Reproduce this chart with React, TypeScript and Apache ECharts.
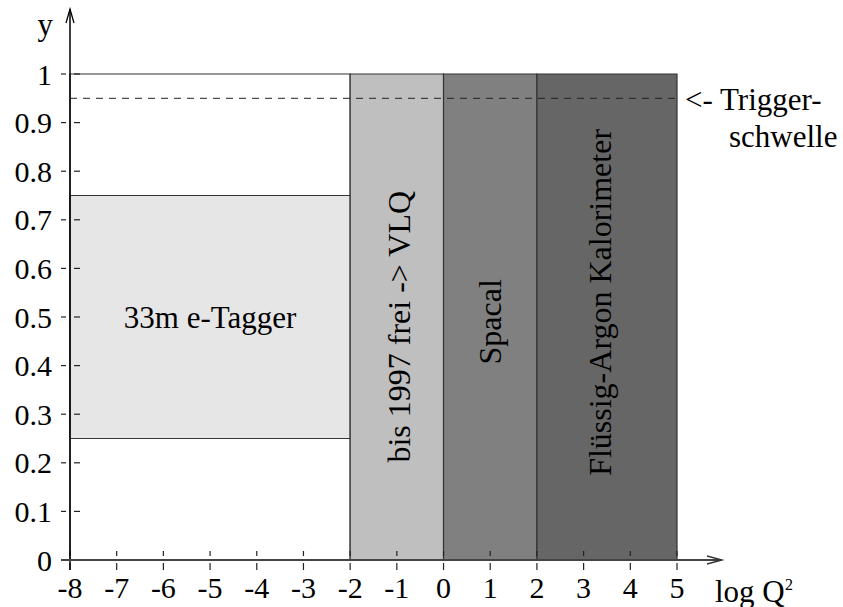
import React, { useEffect, useRef } from 'react';
import * as echarts from 'echarts';

const FONT = 'Liberation Serif, Times New Roman, serif';

const xTickValues = [-8, -7, -6, -5, -4, -3, -2, -1, 0, 1, 2, 3, 4, 5];
const yTickValues = [0, 0.1, 0.2, 0.3, 0.4, 0.5, 0.6, 0.7, 0.8, 0.9, 1];

const regionNames = ['', '33m e-Tagger', 'bis 1997 frei -> VLQ', 'Spacal', 'Flüssig-Argon Kalorimeter'];
const regionX0 = [-8, -8, -2, 0, 2];
const regionX1 = [-2, -2, 0, 2, 5];
const regionY0 = [0, 0.25, 0, 0, 0];
const regionY1 = [1, 0.75, 1, 1, 1];
const regionColors = ['#ffffff', '#e6e6e6', '#bfbfbf', '#808080', '#666666'];
const labelX = [-5, -5, -0.95, 1, 3.35];
const labelY = [0.5, 0.5, 0.48, 0.49, 0.53];
const labelRotated = [0, 0, 1, 1, 1];

const triggerY = 0.95;
const triggerX = [-8, 5];
const triggerText = ['<- Trigger-', 'schwelle'];

const xName = 'log Q';
const xNameSup = '2';
const yName = 'y';

export default function App() {
  const ref = useRef<HTMLDivElement>(null);

  useEffect(() => {
    if (!ref.current) return;
    const chart = echarts.init(ref.current, null, { renderer: 'svg' });

    const regionData = regionX0.map((x0, i) => [x0, regionX1[i], regionY0[i], regionY1[i], labelX[i], labelY[i], labelRotated[i]]);

    const axisCommon = {
      axisLine: { show: false },
      axisTick: { show: false },
      splitLine: { show: false },
    };

    chart.setOption({
      animation: false,
      backgroundColor: '#ffffff',
      textStyle: { fontFamily: FONT },
      grid: { left: 70, right: 166, top: 74, bottom: 47 },
      xAxis: {
        type: 'value',
        min: -8,
        max: 5,
        interval: 1,
        ...axisCommon,
        axisLabel: {
          fontFamily: FONT,
          fontSize: 30,
          color: '#000',
          margin: 12,
          formatter: (v: number) => String(v),
        },
      },
      yAxis: {
        type: 'value',
        min: 0,
        max: 1,
        interval: 0.1,
        ...axisCommon,
        axisLabel: {
          fontFamily: FONT,
          fontSize: 30,
          color: '#000',
          margin: 18,
          formatter: (v: number) => String(Number(v.toFixed(1))),
        },
      },
      series: [
        {
          type: 'custom',
          data: regionData,
          z: 2,
          renderItem: (params: any, api: any) => {
            const i = params.dataIndex;
            const tl = api.coord([api.value(0), api.value(3)]);
            const br = api.coord([api.value(1), api.value(2)]);
            const children: any[] = [
              {
                type: 'rect',
                shape: { x: tl[0], y: tl[1], width: br[0] - tl[0], height: br[1] - tl[1] },
                style: { fill: regionColors[i], stroke: '#333', lineWidth: 1.2 },
              },
            ];
            const name = regionNames[i];
            if (name) {
              const c = api.coord([api.value(4), api.value(5)]);
              const rotated = api.value(6);
              children.push({
                type: 'text',
                x: c[0],
                y: c[1],
                rotation: rotated ? Math.PI / 2 : 0,
                style: {
                  text: name,
                  fontFamily: FONT,
                  fontSize: rotated ? 32 : 31,
                  fill: '#000',
                  align: 'center',
                  verticalAlign: 'middle',
                },
              });
            }
            return { type: 'group', children };
          },
        },
        {
          type: 'line',
          data: triggerX.map((x) => [x, triggerY]),
          symbol: 'none',
          z: 5,
          lineStyle: { color: '#222', width: 1, type: [7, 6] },
        },
      ],
    });

    const px = (x: number, y: number) => chart.convertToPixel({ gridIndex: 0 }, [x, y]) as number[];
    const origin = px(-8, 0);
    const yTop = px(-8, 1);
    const xEnd = px(5, 0);
    const ox = origin[0];
    const oy = origin[1];

    const graphics: any[] = [];
    const lineEl = (x1: number, y1: number, x2: number, y2: number, stroke = '#000', lw = 1.3) => ({
      type: 'line',
      z: 100,
      shape: { x1, y1, x2, y2 },
      style: { stroke, lineWidth: lw },
    });
    const textEl = (x: number, y: number, text: string, fontSize = 31, align = 'left', verticalAlign = 'middle') => ({
      type: 'text',
      z: 100,
      x,
      y,
      style: { text, fontFamily: FONT, fontSize, fill: '#000', align, verticalAlign },
    });

    // ticks
    xTickValues.forEach((v) => {
      const p = px(v, 0);
      graphics.push(lineEl(p[0], oy - 9, p[0], oy - 4, '#222', 1.2));
      graphics.push(lineEl(p[0], oy + 3, p[0], oy + 10, '#222', 1.2));
    });
    yTickValues.forEach((v) => {
      const p = px(-8, v);
      graphics.push(lineEl(ox - 9, p[1], ox - 4, p[1], '#222', 1.2));
      graphics.push(lineEl(ox + 4, p[1], ox + 10, p[1], '#222', 1.2));
    });

    // axes with open arrows
    const yTip = yTop[1] - 65;
    graphics.push(lineEl(ox, oy + 10, ox, yTip, '#000', 1.5));
    graphics.push({
      type: 'polyline',
      z: 100,
      shape: { points: [[ox - 4, yTip + 14], [ox, yTip], [ox + 4, yTip + 14]] },
      style: { stroke: '#000', lineWidth: 1.3, fill: 'none' },
    });
    const xTip = xEnd[0] + 45;
    graphics.push(lineEl(ox - 9, oy, xTip, oy, '#444', 2));
    graphics.push({
      type: 'polyline',
      z: 100,
      shape: { points: [[xTip - 15, oy - 4], [xTip, oy], [xTip - 15, oy + 4]] },
      style: { stroke: '#333', lineWidth: 1.3, fill: 'none' },
    });

    // axis names
    graphics.push(textEl(ox - 17, yTop[1] - 50, yName, 31, 'right', 'middle'));
    graphics.push(textEl(xEnd[0] + 38, oy + 31, xName, 31, 'left', 'middle'));
    graphics.push(textEl(xEnd[0] + 108, oy + 24, xNameSup, 16, 'left', 'middle'));

    // trigger label
    const tp = px(triggerX[1], triggerY);
    graphics.push(textEl(tp[0] + 8, tp[1] + 1, triggerText[0]));
    graphics.push(textEl(tp[0] + 52, tp[1] + 38, triggerText[1]));

    chart.setOption({ graphic: graphics });

    return () => chart.dispose();
  }, []);

  return (
    <div
      ref={ref}
      style={{ position: 'absolute', left: 0, top: 0, width: 843, height: 607 }}
    />
  );
}
